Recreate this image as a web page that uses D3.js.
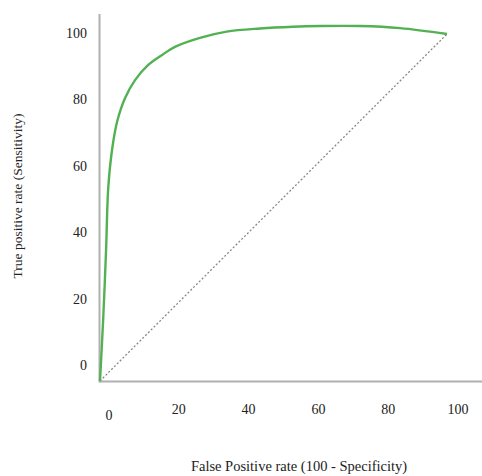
<!DOCTYPE html>
<html><head><meta charset="utf-8">
<script src="https://cdn.jsdelivr.net/npm/d3@7/dist/d3.min.js"></script>
<style>body{margin:0;background:#fff}svg{display:block}text{font-family:"Liberation Serif","Times New Roman",serif;fill:#222}</style>
</head><body><svg id="c" width="482" height="476"></svg>
<script>
const rocFPR = [0,0.95,1.75,2.4,3.6,5.0,7.2,10.1,13.9,17.8,21.6,28.8,36.5,46.1,55.6,63.4,74.9,86.5,100];
const rocTPR = [0,18.5,37.8,56.0,67.5,75.0,81.5,86.7,91.1,93.9,96.3,98.9,100.7,101.6,102.1,102.3,102.3,101.7,100];
const refLine = [[0,0],[100,100]];
const xTicks = [0,20,40,60,80,100];
const yTicks = [0,20,40,60,80,100];
const xTitle = "False Positive rate (100 - Specificity)";
const yTitle = "True positive rate (Sensitivity)";

const svg = d3.select("#c");
const x = d3.scaleLinear().domain([0,100]).range([100,447]);
const y = d3.scaleLinear().domain([0,100]).range([381,34]);
// tick label placement scales (labels are offset from plot in the original)
const xl = d3.scaleLinear().domain([0,100]).range([109,458]);
const yl = d3.scaleLinear().domain([0,100]).range([365,33]);

// axes lines
svg.append("line").attr("x1",x(0)-0.5).attr("x2",482).attr("y1",y(0)+0.5).attr("y2",y(0)+0.5)
  .attr("stroke","#b0b0b0").attr("stroke-width",2);
svg.append("line").attr("x1",x(0)-0.5).attr("x2",x(0)-0.5).attr("y1",14).attr("y2",y(0)+1.5)
  .attr("stroke","#b0b0b0").attr("stroke-width",2);

// diagonal
svg.append("path").attr("d",d3.line().x(d=>x(d[0])).y(d=>y(d[1]))(refLine))
  .attr("fill","none").attr("stroke","#888").attr("stroke-width",1.3).attr("stroke-dasharray","2,2");

// ROC curve
const pts = rocFPR.map((v,i)=>[v,rocTPR[i]]);
svg.append("path").attr("d",d3.line().x(d=>x(d[0])).y(d=>y(d[1])).curve(d3.curveCatmullRom.alpha(0.5))(pts))
  .attr("fill","none").attr("stroke","#52b152").attr("stroke-width",2.4);

// tick labels
svg.append("g").selectAll("text").data(xTicks).join("text")
  .attr("x",d=>xl(d)).attr("y",d=>d===0?420:414).attr("text-anchor","middle")
  .attr("font-size",14).text(d=>d);
svg.append("g").selectAll("text").data(yTicks).join("text")
  .attr("x",87).attr("y",d=>yl(d)).attr("dy","0.35em").attr("text-anchor","end")
  .attr("font-size",14).text(d=>d);

// titles
svg.append("text").attr("x",299).attr("y",471).attr("text-anchor","middle").attr("font-size",14.5).text(xTitle);
svg.append("text").attr("transform","translate(22,196) rotate(-90)").attr("text-anchor","middle").attr("font-size",13.5).text(yTitle);
</script></body></html>
